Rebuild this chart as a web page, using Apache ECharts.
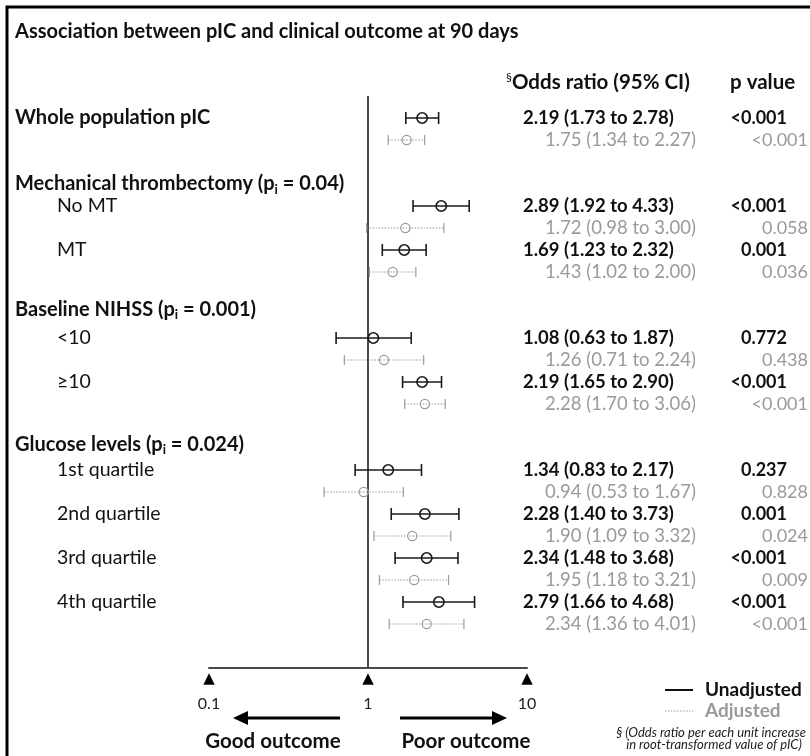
<!DOCTYPE html>
<html>
<head>
<meta charset="utf-8">
<script src="https://cdn.jsdelivr.net/npm/echarts@6/dist/echarts.min.js"></script>
<style>
  html, body { margin: 0; padding: 0; background: #fff; }
  #chart { width: 810px; height: 756px; }
</style>
</head>
<body>
<div id="chart"></div>
<script>
// ---- Data ----
const subgroupLabels = ['Whole population pIC', 'No MT', 'MT', '<10', '\u226510',
  '1st quartile', '2nd quartile', '3rd quartile', '4th quartile'];
const subgroupGroup = [-1, 0, 0, 1, 1, 2, 2, 2, 2];
const groupNames = ['Mechanical thrombectomy', 'Baseline NIHSS', 'Glucose levels'];
const interactionP = ['0.04', '0.001', '0.024'];

const unadjOR   = [2.19, 2.89, 1.69, 1.08, 2.19, 1.34, 2.28, 2.34, 2.79];
const unadjLow  = [1.73, 1.92, 1.23, 0.63, 1.65, 0.83, 1.40, 1.48, 1.66];
const unadjHigh = [2.78, 4.33, 2.32, 1.87, 2.90, 2.17, 3.73, 3.68, 4.68];
const unadjP    = ['<0.001', '<0.001', '0.001', '0.772', '<0.001', '0.237', '0.001', '<0.001', '<0.001'];

const adjOR   = [1.75, 1.72, 1.43, 1.26, 2.28, 0.94, 1.90, 1.95, 2.34];
const adjLow  = [1.34, 0.98, 1.02, 0.71, 1.70, 0.53, 1.09, 1.18, 1.36];
const adjHigh = [2.27, 3.00, 2.00, 2.24, 3.06, 1.67, 3.32, 3.21, 4.01];
const adjP    = ['<0.001', '0.058', '0.036', '0.438', '<0.001', '0.828', '0.024', '0.009', '<0.001'];

const axisTicks = [0.1, 1, 10];

// ---- Row layout (in row slots along the y axis) ----
const HEADER_LEAD = [1, 1.3, 1.15];   // how far a group title sits above its first row
const rowSlot = [];
const headerSlot = [];
(function buildLayout() {
  let slot = 0;
  for (let i = 0; i < subgroupLabels.length; i++) {
    if (i > 0) {
      const g = subgroupGroup[i];
      const newGroup = g !== subgroupGroup[i - 1];
      slot += newGroup ? 4 : 2;
      if (newGroup) headerSlot[g] = slot - HEADER_LEAD[g];
    }
    rowSlot.push(slot);
  }
})();

const fmt = v => v.toFixed(2);
const FONT = 'Lato';
const BLACK = '#111';
const GREY = '#9a9a9a';

const chart = echarts.init(document.getElementById('chart'), null, { renderer: 'canvas' });

function ciSeries(name, est, lo, hi, pv, isAdj) {
  const color = isAdj ? '#9c9c9c' : '#1a1a1a';
  const textColor = isAdj ? GREY : BLACK;
  const data = est.map((v, i) => [v, rowSlot[i] + (isAdj ? 1 : 0), lo[i], hi[i]]);
  return {
    name, type: 'custom', coordinateSystem: 'cartesian2d',
    encode: { x: [0, 2, 3], y: 1 },
    data,
    z: 5,
    renderItem(params, api) {
      const i = params.dataIndex;
      const y = api.value(1);
      const p = api.coord([api.value(0), y]);
      const a = api.coord([api.value(2), y]);
      const b = api.coord([api.value(3), y]);
      const cap = isAdj ? 5 : 6;
      const lw = isAdj ? 1.2 : 1.6;
      const dash = isAdj ? [1.5, 1.5] : null;
      return {
        type: 'group',
        children: [
          { type: 'line', shape: { x1: a[0], y1: p[1], x2: b[0], y2: p[1] },
            style: { stroke: color, lineWidth: lw, lineDash: dash } },
          { type: 'line', shape: { x1: a[0], y1: p[1] - cap, x2: a[0], y2: p[1] + cap },
            style: { stroke: color, lineWidth: lw } },
          { type: 'line', shape: { x1: b[0], y1: p[1] - cap, x2: b[0], y2: p[1] + cap },
            style: { stroke: color, lineWidth: lw } },
          { type: 'circle', shape: { cx: p[0], cy: p[1], r: isAdj ? 4.6 : 5.2 },
            style: { fill: 'rgba(0,0,0,0)', stroke: color, lineWidth: lw } },
          { type: 'text', style: {
              x: isAdj ? 545 : 523, y: p[1],
              text: fmt(est[i]) + ' (' + fmt(lo[i]) + ' to ' + fmt(hi[i]) + ')',
              fill: textColor, font: isAdj ? '18.5px ' + FONT : 'bold 18.5px ' + FONT,
              align: 'left', verticalAlign: 'middle' } },
          { type: 'text', style: {
              x: isAdj ? 808 : 787, y: p[1], text: pv[i],
              fill: textColor, font: (isAdj ? '' : 'bold ') + '18px ' + FONT,
              align: 'right', verticalAlign: 'middle' } }
        ]
      };
    }
  };
}

// row labels on the left (group titles and subgroup names)
const labelData = [];
subgroupLabels.forEach((t, i) => labelData.push({ value: [1, rowSlot[i]], kind: 'row', idx: i }));
groupNames.forEach((t, g) => labelData.push({ value: [1, headerSlot[g]], kind: 'group', idx: g }));

const labelSeries = {
  type: 'custom', coordinateSystem: 'cartesian2d',
  encode: { x: 0, y: 1 },
  data: labelData,
  renderItem(params, api) {
    const item = labelData[params.dataIndex];
    const y = api.coord([1, api.value(1)])[1];
    if (item.kind === 'group') {
      return { type: 'text', style: {
        x: 15, y,
        text: '{b|' + groupNames[item.idx] + ' (p}{s|i}{b| = ' + interactionP[item.idx] + ')}',
        verticalAlign: 'middle', align: 'left',
        rich: {
          b: { fontFamily: FONT, fontWeight: 'bold', fontSize: 20, fill: BLACK, color: BLACK },
          s: { fontFamily: FONT, fontWeight: 'bold', fontSize: 13, fill: BLACK, color: BLACK, padding: [11, 0, 0, 0] }
        } } };
    }
    const top = subgroupGroup[item.idx] < 0;
    return { type: 'text', style: {
      x: top ? 15 : 57, y, text: subgroupLabels[item.idx],
      fill: BLACK, font: (top ? 'bold 20px ' : '19.5px ') + FONT,
      align: 'left', verticalAlign: 'middle' } };
  }
};

function arrow(x1, x2, y) {
  const dir = Math.sign(x2 - x1);
  const head = 15;
  return {
    type: 'group', children: [
      { type: 'line', shape: { x1, y1: y, x2: x2 - dir * head, y2: y }, style: { stroke: '#000', lineWidth: 3 } },
      { type: 'polygon', shape: { points: [[x2, y], [x2 - dir * head, y - 7], [x2 - dir * head, y + 7]] },
        style: { fill: '#000' } }
    ]
  };
}

const option = {
  animation: false,
  backgroundColor: '#fff',
  grid: { left: 209, width: 318, top: 96, height: 572 },
  xAxis: {
    type: 'log', logBase: 10, min: 0.1, max: 10,
    axisLine: { show: true, onZero: false, lineStyle: { color: '#4a4a4a', width: 2 } },
    axisTick: { show: false },
    splitLine: { show: false },
    axisLabel: {
      customValues: axisTicks,
      margin: 3,
      formatter: v => {
        const t = axisTicks.reduce((a, b) => Math.abs(b - v) < Math.abs(a - v) ? b : a);
        return '{t|\u25B2}\n{v|' + String(t) + '}';
      },
      rich: {
        t: { fontFamily: 'DejaVu Sans', fontSize: 15, color: '#000', lineHeight: 17 },
        v: { fontFamily: FONT, fontSize: 16, color: '#222', lineHeight: 31 }
      }
    }
  },
  yAxis: { type: 'value', inverse: true, min: -1, max: 25, show: false },
  series: [
    labelSeries,
    ciSeries('Unadjusted', unadjOR, unadjLow, unadjHigh, unadjP, false),
    ciSeries('Adjusted', adjOR, adjLow, adjHigh, adjP, true),
    {
      type: 'line', data: [], silent: true,
      markLine: {
        symbol: 'none', silent: true, label: { show: false },
        lineStyle: { color: '#4a4a4a', width: 2, type: 'solid' },
        data: [{ xAxis: 1 }]
      }
    }
  ],
  graphic: [
    // frame
    { type: 'polyline', shape: { points: [[7, 760], [7, 7], [812, 7]] },
      style: { stroke: '#000', lineWidth: 3, fill: null } },
    { type: 'text', x: 15, y: 32, style: {
        text: 'Association between pIC and clinical outcome at 90 days',
        font: 'bold 20px ' + FONT, fill: BLACK, verticalAlign: 'middle' } },
    { type: 'text', x: 506, y: 82, style: {
        text: '{s|\u00A7}{b|Odds ratio (95% CI)}', verticalAlign: 'middle',
        rich: {
          s: { fontFamily: FONT, fontSize: 12, color: BLACK, fill: BLACK, padding: [0, 0, 10, 0] },
          b: { fontFamily: FONT, fontWeight: 'bold', fontSize: 20.5, color: BLACK, fill: BLACK }
        } } },
    { type: 'text', x: 730, y: 82, style: {
        text: 'p value', font: 'bold 20.5px ' + FONT, fill: BLACK, verticalAlign: 'middle' } },
    // direction arrows
    arrow(340, 233, 718),
    arrow(400, 507, 718),
    { type: 'text', x: 273, y: 741, style: {
        text: 'Good outcome', font: 'bold 20.5px ' + FONT, fill: BLACK, align: 'center', verticalAlign: 'middle' } },
    { type: 'text', x: 466, y: 741, style: {
        text: 'Poor outcome', font: 'bold 20.5px ' + FONT, fill: BLACK, align: 'center', verticalAlign: 'middle' } },
    // legend
    { type: 'line', shape: { x1: 665, y1: 690, x2: 693, y2: 690 }, style: { stroke: '#111', lineWidth: 2 } },
    { type: 'line', shape: { x1: 665, y1: 711, x2: 693, y2: 711 }, style: { stroke: '#9c9c9c', lineWidth: 1.2, lineDash: [1.5, 1.5] } },
    { type: 'text', x: 705, y: 690, style: {
        text: 'Unadjusted', font: 'bold 19px ' + FONT, fill: BLACK, verticalAlign: 'middle' } },
    { type: 'text', x: 705, y: 711, style: {
        text: 'Adjusted', font: 'bold 19px ' + FONT, fill: GREY, verticalAlign: 'middle' } },
    { type: 'text', x: 711, y: 733, style: {
        text: '\u00A7 (Odds ratio per each unit increase', font: 'italic 13px ' + FONT,
        fill: '#222', align: 'center', verticalAlign: 'middle' } },
    { type: 'text', x: 714, y: 745, style: {
        text: 'in root-transformed value of pIC)', font: 'italic 13px ' + FONT,
        fill: '#222', align: 'center', verticalAlign: 'middle' } }
  ]
};

chart.setOption(option);
</script>
</body>
</html>
